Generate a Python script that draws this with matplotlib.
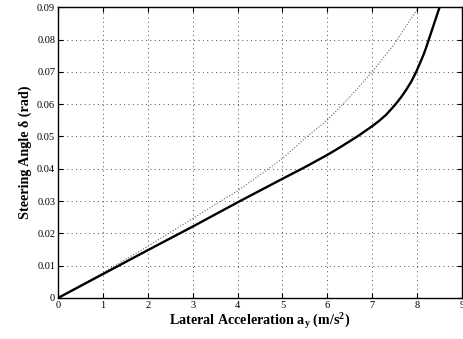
import matplotlib
matplotlib.use("Agg")
import matplotlib.pyplot as plt
import numpy as np

# steering angle vs lateral acceleration
ay_actual = [0, 1, 2, 3, 4, 5, 5.5, 6, 6.29, 6.7, 7, 7.15, 7.3, 7.42, 7.52, 7.64,
             7.75, 7.87, 7.98, 8.06, 8.14, 8.2, 8.26, 8.38, 8.5]
delta_actual = [0, 0.0074, 0.0148, 0.0221, 0.0296, 0.0369, 0.0405, 0.0443, 0.0467,
                0.0503, 0.0532, 0.0548, 0.0566, 0.0584, 0.0600, 0.0621, 0.0643,
                0.0670, 0.0700, 0.0726, 0.0752, 0.0775, 0.0800, 0.0850, 0.0900]

ay_linear = [0, 1, 2, 3, 4, 4.69, 5, 5.5, 6, 6.5, 7, 7.5, 8.03]
delta_linear = [0, 0.0078, 0.016, 0.0246, 0.0332, 0.040, 0.0432, 0.0494, 0.0551,
                0.0622, 0.070, 0.0788, 0.090]

xticks = list(range(0, 10))
yticks = [0, 0.01, 0.02, 0.03, 0.04, 0.05, 0.06, 0.07, 0.08, 0.09]
ytick_labels = ["0", "0.01", "0.02", "0.03", "0.04", "0.05", "0.06", "0.07", "0.08", "0.09"]

plt.rcParams["font.family"] = ["Liberation Serif", "DejaVu Serif"]
plt.rcParams["mathtext.fontset"] = "custom"
plt.rcParams["mathtext.rm"] = "Liberation Serif:bold"
plt.rcParams["mathtext.it"] = "Liberation Serif:bold"
plt.rcParams["mathtext.bf"] = "Liberation Serif:bold"

fig = plt.figure(figsize=(4.64, 3.39), dpi=100)
ax = fig.add_axes([0.125, 0.121, 0.8707, 0.8575])

ax.plot(ay_linear, delta_linear, linestyle=(0, (1, 1.6)), color="0.4", linewidth=0.8)
ax.plot(ay_actual, delta_actual, color="black", linewidth=1.7,
        solid_joinstyle="round")

ax.set_xlim(0, 9)
ax.set_ylim(0, 0.09)
ax.set_xticks(xticks)
ax.set_yticks(yticks)
ax.set_yticklabels(ytick_labels)
ax.grid(True, linestyle=(0, (1, 3.5)), color="0.3", linewidth=0.7)
ax.tick_params(direction="in", length=3.5, width=0.8, labelsize=7.5,
               top=True, right=True, pad=2, colors="black")
for s in ax.spines.values():
    s.set_linewidth(1.0)

ax.set_xlabel(r"Lateral Acceleration a$_\mathrm{y}$ (m/s$^\mathrm{2}$)",
              fontsize=10.2, fontweight="bold", labelpad=1)
ax.set_ylabel("Steering Angle δ (rad)", fontsize=10.2, fontweight="bold", labelpad=4)

fig.savefig("out.png", dpi=100)
